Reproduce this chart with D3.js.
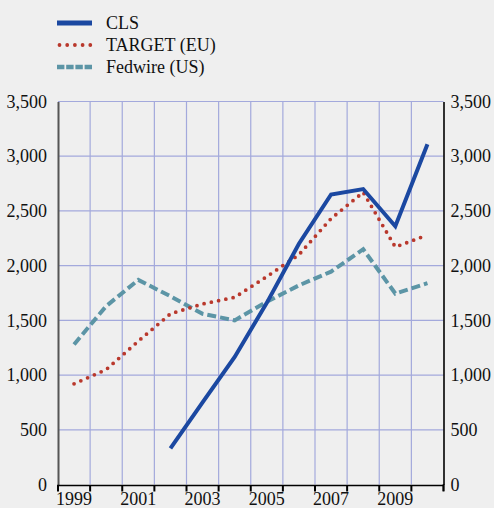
<!DOCTYPE html>
<html><head><meta charset="utf-8">
<script src="https://cdn.jsdelivr.net/npm/d3@7"></script>
<style>
html,body{margin:0;padding:0;background:#efefef;}
svg{display:block;font-family:"Liberation Serif","Times New Roman",serif;}
</style></head>
<body>
<svg id="c" width="494" height="508"></svg>
<script>
const years = [1999,2000,2001,2002,2003,2004,2005,2006,2007,2008,2009,2010];
const yearLabels = ["1999","2001","2003","2005","2007","2009"];
const yTicks = [0,500,1000,1500,2000,2500,3000,3500];
const cls =     [null,null,null,330,750,1165,1660,2200,2650,2700,2360,3110];
const target =  [920,1050,1310,1560,1650,1710,1900,2100,2430,2670,2170,2280];
const fedwire = [1280,1630,1870,1720,1560,1500,1670,1820,1945,2150,1745,1840];
const seriesNames = ["CLS","TARGET (EU)","Fedwire (US)"];
const colors = ["#1b48a1","#b9382c","#5c95a6"];

const svg = d3.select("#c");
const x = d3.scaleBand().domain(years).range([58,443.5]);
const y = d3.scaleLinear().domain([0,3500]).range([484.5,101.5]);

// grid
const g = svg.append("g");
g.selectAll("line.h").data(yTicks.filter(d=>d>0)).enter().append("line")
  .attr("x1",58).attr("x2",443.5).attr("y1",d=>y(d)).attr("y2",d=>y(d))
  .attr("stroke","#a3a9dc").attr("stroke-width",1.2);
g.selectAll("line.v").data(years.slice(1)).enter().append("line")
  .attr("x1",d=>x(d)).attr("x2",d=>x(d)).attr("y1",101.5).attr("y2",484.5)
  .attr("stroke","#a3a9dc").attr("stroke-width",1.2);

// left axis
const yl = svg.append("g").attr("transform","translate(58,0)")
  .call(d3.axisLeft(y).tickValues(yTicks).tickSize(0).tickPadding(11).tickFormat(d3.format(",")));
yl.select(".domain").attr("stroke","#555").attr("stroke-width",2);
yl.selectAll("text").attr("font-size",18).attr("font-family","Liberation Serif").attr("fill","#111");

// right axis
const yr = svg.append("g").attr("transform","translate(443.5,0)")
  .call(d3.axisRight(y).tickValues(yTicks).tickSize(0).tickPadding(7).tickFormat(d3.format(",")));
yr.select(".domain").attr("stroke","#000").attr("stroke-width",1.6);
yr.selectAll("text").attr("font-size",18).attr("font-family","Liberation Serif").attr("fill","#111");
svg.append("line").attr("x1",443.5).attr("x2",443.5).attr("y1",484).attr("y2",491).attr("stroke","#000").attr("stroke-width",1.6);

// bottom axis
const xa = svg.append("g").attr("transform","translate(0,485)")
  .call(d3.axisBottom(x).tickValues(years).tickSize(0).tickFormat(d=>yearLabels.includes(String(d))?String(d):""));
xa.select(".domain").remove();
xa.selectAll("text").attr("font-size",18).attr("font-family","Liberation Serif").attr("fill","#111").attr("dy","0.95em");
svg.append("line").attr("x1",57).attr("x2",444).attr("y1",485.5).attr("y2",485.5).attr("stroke","#000").attr("stroke-width",1.6);
svg.selectAll("line.tk").data(years.concat([2011])).enter().append("line")
  .attr("x1",d=>d===2011?x.range()[1]:x(d)).attr("x2",d=>d===2011?x.range()[1]:x(d))
  .attr("y1",485).attr("y2",491.5).attr("stroke","#000").attr("stroke-width",2);

// lines
const line = d3.line().defined(d=>d[1]!=null).x(d=>x(d[0])+x.bandwidth()/2).y(d=>y(d[1]));
const data = [cls,target,fedwire].map(s=>years.map((yr,i)=>[yr,s[i]]));
svg.append("path").attr("d",line(data[2])).attr("fill","none").attr("stroke",colors[2])
  .attr("stroke-width",4).attr("stroke-dasharray","9,4");
svg.append("path").attr("d",line(data[1])).attr("fill","none").attr("stroke",colors[1])
  .attr("stroke-width",3.8).attr("stroke-dasharray","0,7.4").attr("stroke-linecap","round");
svg.append("path").attr("d",line(data[0])).attr("fill","none").attr("stroke",colors[0])
  .attr("stroke-width",4).attr("stroke-linejoin","miter");

// legend
const leg = svg.append("g");
const ly = [23,45,67];
const styles = [{w:5,da:null,cap:"butt"},{w:3.8,da:"0,7.7",cap:"round"},{w:4.5,da:"7.4,1.8",cap:"butt"}];
seriesNames.forEach((n,i)=>{
  leg.append("line").attr("x1",i===1?59.5:57).attr("x2",92).attr("y1",ly[i]).attr("y2",ly[i])
    .attr("stroke",colors[i]).attr("stroke-width",styles[i].w)
    .attr("stroke-dasharray",styles[i].da).attr("stroke-linecap",styles[i].cap);
  leg.append("text").attr("x",106).attr("y",ly[i]).attr("dy","0.35em")
    .attr("font-size",18).attr("fill","#111").text(n);
});
</script>
</body></html>
